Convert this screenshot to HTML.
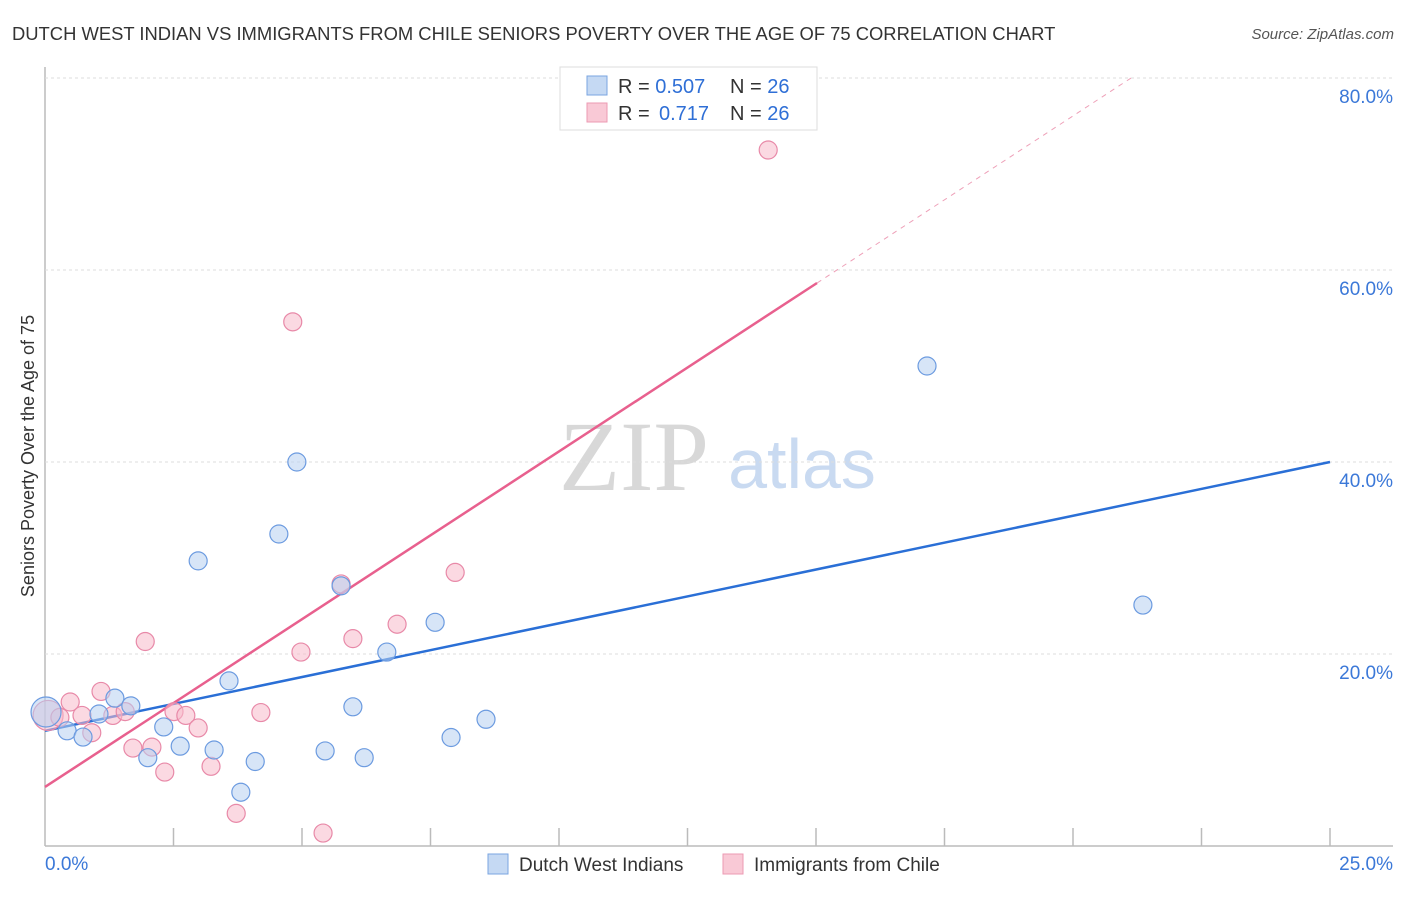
<!DOCTYPE html>
<html><head><meta charset="utf-8"><style>
body{margin:0;background:#fff;font-family:"Liberation Sans",sans-serif;}
</style></head><body>
<svg width="1406" height="892" id="chart" font-family="Liberation Sans, sans-serif">
<text x="12" y="40" font-size="18.4" fill="#333">DUTCH WEST INDIAN VS IMMIGRANTS FROM CHILE SENIORS POVERTY OVER THE AGE OF 75 CORRELATION CHART</text>
<text x="1394" y="39" font-size="15" fill="#555" font-style="italic" text-anchor="end">Source: ZipAtlas.com</text>
<text x="634" y="490" font-size="100" fill="#d8d8d8" style="font-family:'Liberation Serif',serif" text-anchor="middle">ZIP</text>
<text x="802" y="488" font-size="70" fill="#c9daf1" text-anchor="middle">atlas</text>
<text transform="translate(34,456) rotate(-90)" font-size="18" fill="#333" text-anchor="middle">Seniors Poverty Over the Age of 75</text>
<g id="grid"></g><g id="trends"></g><g id="points"></g>
<g>
<rect x="560" y="67" width="257" height="63" fill="#fff" stroke="#ddd"/>
<rect x="587" y="76" width="20" height="19" fill="#c5d9f3" stroke="#7aa5e0"/>
<rect x="587" y="103" width="20" height="19" fill="#f9c9d6" stroke="#ec9ab3"/>
<text x="618" y="93" font-size="20" fill="#333">R = <tspan fill="#2f6fd6">0.507</tspan><tspan x="730">N = </tspan><tspan fill="#2f6fd6">26</tspan></text>
<text x="618" y="120" font-size="20" fill="#333">R = <tspan fill="#2f6fd6" x="659">0.717</tspan><tspan x="730">N = </tspan><tspan fill="#2f6fd6">26</tspan></text>
</g>
<g>
<rect x="488" y="854" width="20" height="20" fill="#c5d9f3" stroke="#7aa5e0"/>
<text x="519" y="871" font-size="19" fill="#333">Dutch West Indians</text>
<rect x="723" y="854" width="20" height="20" fill="#f9c9d6" stroke="#ec9ab3"/>
<text x="754" y="871" font-size="19" fill="#333">Immigrants from Chile</text>
</g>
</svg>
<script>
const xTicks=[0,2.5,5,7.5,10,12.5,15,17.5,20,22.5,25];
const yTicks=[20,40,60,80];
const yTickLabels=["20.0%","40.0%","60.0%","80.0%"];
const blueX=[0.02,0.43,0.74,1.05,1.36,1.67,2.0,2.31,2.63,2.98,3.29,3.58,3.81,4.09,4.55,4.9,5.45,5.76,5.99,6.21,6.65,7.59,7.9,8.58,17.16,21.36];
const blueY=[13.96,12.0,11.35,13.75,15.4,14.6,9.2,12.4,10.4,29.7,10.0,17.2,5.6,8.8,32.5,40.0,9.9,27.1,14.5,9.2,20.2,23.3,11.3,13.2,50.0,25.1];
const pinkX=[0.06,0.29,0.49,0.72,0.91,1.09,1.32,1.56,1.71,1.95,2.08,2.33,2.51,2.74,2.98,3.23,3.72,4.2,4.82,4.98,5.41,5.76,5.99,6.85,7.98,14.07];
const pinkY=[13.6,13.4,15.0,13.6,11.8,16.1,13.6,14.0,10.2,21.3,10.3,7.7,14.0,13.6,12.3,8.3,3.4,13.9,54.6,20.2,1.35,27.3,21.6,23.1,28.5,72.5];
const blueTrend=[12.0,40.0];
const pinkTrend=[6.15,3.495,15.02];
const NS="http://www.w3.org/2000/svg";
const X=v=>45+v*(1285/25), Y=v=>846-v*(192/20);
function mk(tag,a,p){const e=document.createElementNS(NS,tag);for(const k in a)e.setAttribute(k,a[k]);p.appendChild(e);return e;}
const grid=document.getElementById('grid');
const ax=mk('line',{x1:45,y1:67,x2:45,y2:846,stroke:'#bbb','stroke-width':1.5},grid);


const bx=mk('line',{x1:45,y1:846,x2:1393,y2:846,stroke:'#bbb','stroke-width':1.5},grid);


yTicks.forEach((t,i)=>{
 const g=mk('line',{x1:45,y1:Y(t),x2:1393,y2:Y(t),stroke:'#ddd','stroke-dasharray':'3,3'},grid);
 
 
 const l=mk('text',{x:1393,y:Y(t)+25,'font-size':19,fill:'#3b78d8','text-anchor':'end'},grid);
 l.textContent=yTickLabels[i];
 
 
});
xTicks.forEach(t=>{
 if(t===0)return;
 const k=mk('line',{x1:X(t),y1:828,x2:X(t),y2:846,stroke:'#bbb','stroke-width':1.5},grid);
 
 
});
const x0=mk('text',{x:45,y:870,'font-size':19,fill:'#3b78d8'},grid);x0.textContent='0.0%';


const x1=mk('text',{x:1393,y:870,'font-size':19,fill:'#3b78d8','text-anchor':'end'},grid);x1.textContent='25.0%';


const pts=document.getElementById('points');
function dots(xs,ys,fill,stroke,name){xs.forEach((x,i)=>{
 const r=(i===0)?15:9;
 const c=mk('circle',{cx:X(x),cy:Y(ys[i]),r:r,fill:fill,'fill-opacity':0.55,stroke:stroke,'stroke-width':1.2},pts);
 
 
});}
dots(pinkX,pinkY,'#f7b9cb','#e889a8','chile-point');
dots(blueX,blueY,'#b7cff0','#6c9be0','dutch-point');
const tr=document.getElementById('trends');
const bl=mk('line',{x1:X(0),y1:Y(blueTrend[0]),x2:X(25),y2:Y(blueTrend[1]),stroke:'#2a6fd6','stroke-width':2.5},tr);


const pe=pinkTrend[2], xEnd=(80-pinkTrend[0])/pinkTrend[1];
const pl=mk('line',{x1:X(0),y1:Y(pinkTrend[0]),x2:X(pe),y2:Y(pinkTrend[0]+pinkTrend[1]*pe),stroke:'#e8608e','stroke-width':2.5},tr);


const pd=mk('line',{x1:X(pe),y1:Y(pinkTrend[0]+pinkTrend[1]*pe),x2:X(xEnd),y2:Y(80),stroke:'#eea0b8','stroke-width':1,'stroke-dasharray':'5,5'},tr);


</script>
</body></html>
